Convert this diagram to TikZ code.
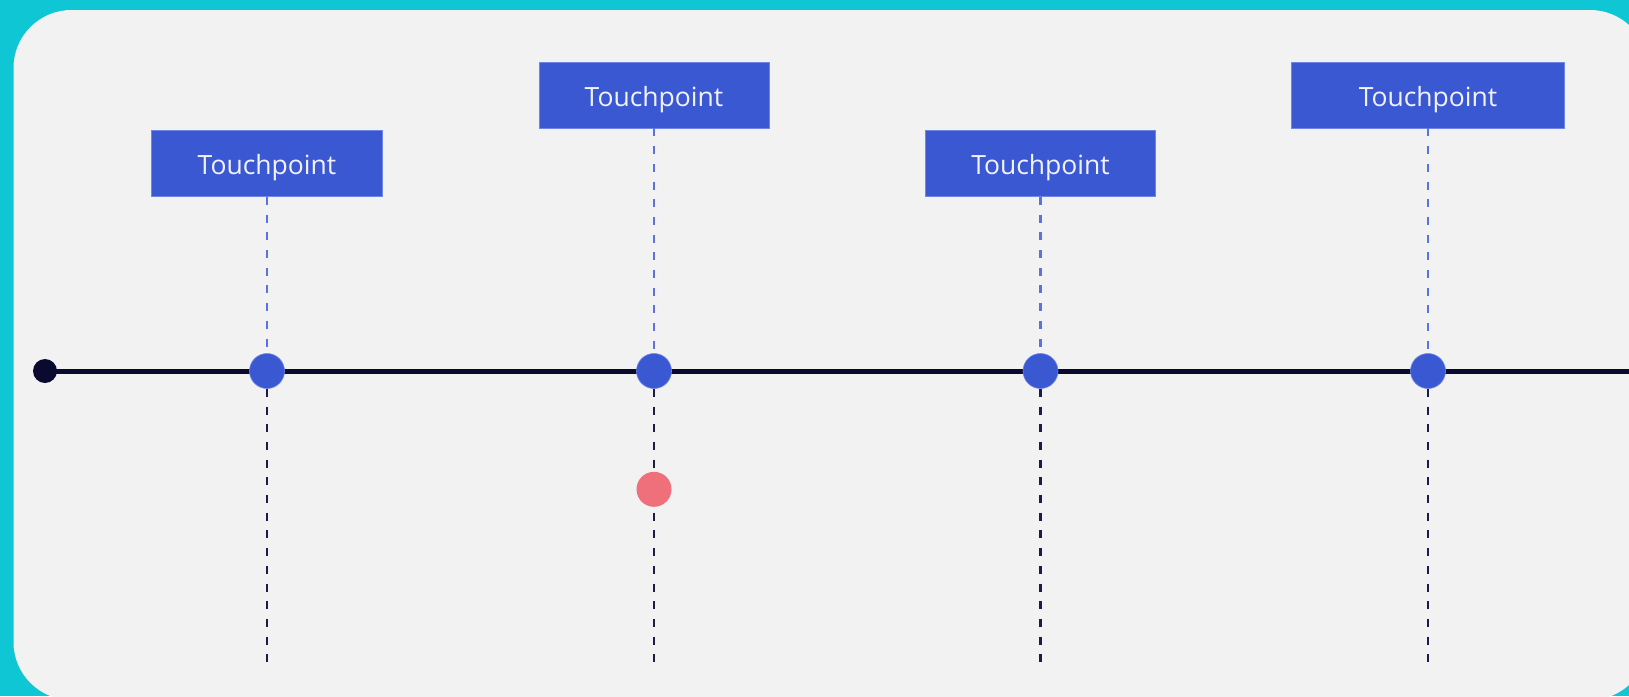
\documentclass[tikz,border=0pt]{standalone}
\usepackage{fontspec}
\setmainfont{Open Sans}
\definecolor{frame}{HTML}{0FC6D4}
\definecolor{panel}{HTML}{F2F2F2}
\definecolor{tpblue}{HTML}{3B58D3}
\definecolor{tpedge}{HTML}{6F86E6}
\definecolor{stemblue}{HTML}{5A72E2}
\definecolor{navy}{HTML}{0A0A30}
\definecolor{stemnavy}{HTML}{1C1C48}
\definecolor{alert}{HTML}{EF6F7A}
\definecolor{labeltext}{HTML}{F2F2FF}
\tikzset{
  tpbox/.style={draw=tpedge, line width=0.8pt, fill=tpblue, text=labeltext,
    minimum height=66pt, inner sep=0pt, text height=22pt, text depth=0pt,
    font=\fontsize{26.5}{30}\selectfont},
  tpdot/.style={circle, fill=tpblue, draw=tpedge, line width=0.6pt, minimum size=35pt, inner sep=0pt},
  startdot/.style={circle, fill=navy, minimum size=24pt, inner sep=0pt},
  reddot/.style={circle, fill=alert, minimum size=35pt, inner sep=0pt},
  upstem/.style={draw=stemblue, line width=2.4pt, dash pattern=on 8pt off 9.7pt},
  downstem/.style={draw=stemnavy, line width=2.4pt, dash pattern=on 8pt off 9.7pt},
  axis/.style={draw=navy, line width=5pt}
}
\begin{document}
\begin{tikzpicture}[x=1pt, y=-1pt]
  \useasboundingbox (0,0) rectangle (1629,696);
  % backdrop and rounded panel
  \fill[frame] (0,0) rectangle (1629,696);
  \fill[panel, rounded corners=58pt] (13.5,10) rectangle (1648,700);

  % time axis
  \node[startdot] (start) at (45,371) {};
  \coordinate (axisend) at (1640,371);

  % touchpoint labels
  \node[tpbox, minimum width=230.6pt] (b1) at (267,163.5) {Touchpoint};
  \node[tpbox, minimum width=230pt] (b2) at (654,95) {Touchpoint};
  \node[tpbox, minimum width=230pt] (b3) at (1040.5,163.5) {Touchpoint};
  \node[tpbox, minimum width=273.6pt] (b4) at (1428,95) {Touchpoint};

  % ends of the lower stems
  \coordinate (e1) at (267,662);
  \coordinate (e2) at (654,662);
  \coordinate (e3) at (1040.5,662);
  \coordinate (e4) at (1428,662);

  \path[axis] (start.center) -- (axisend);

  % points on the axis
  \node[tpdot] (d1) at (267,371) {};
  \node[tpdot] (d2) at (654,371) {};
  \node[tpdot] (d3) at (1040.5,371) {};
  \node[tpdot] (d4) at (1428,371) {};

  % stems above the axis
  \path[upstem] (b1.south) -- (d1.north);
  \path[upstem] (b2.south) -- (d2.north);
  \path[upstem] (b3.south) -- (d3.north);
  \path[upstem] (b4.south) -- (d4.north);

  % stems below the axis
  \path[downstem] (d1.south) -- (e1);
  \path[downstem] (d2.south) -- (e2);
  \path[downstem] (d3.south) -- (e3);
  \path[downstem] (d4.south) -- (e4);

  \node[reddot] (r2) at (654,489.3) {};
\end{tikzpicture}
\end{document}
